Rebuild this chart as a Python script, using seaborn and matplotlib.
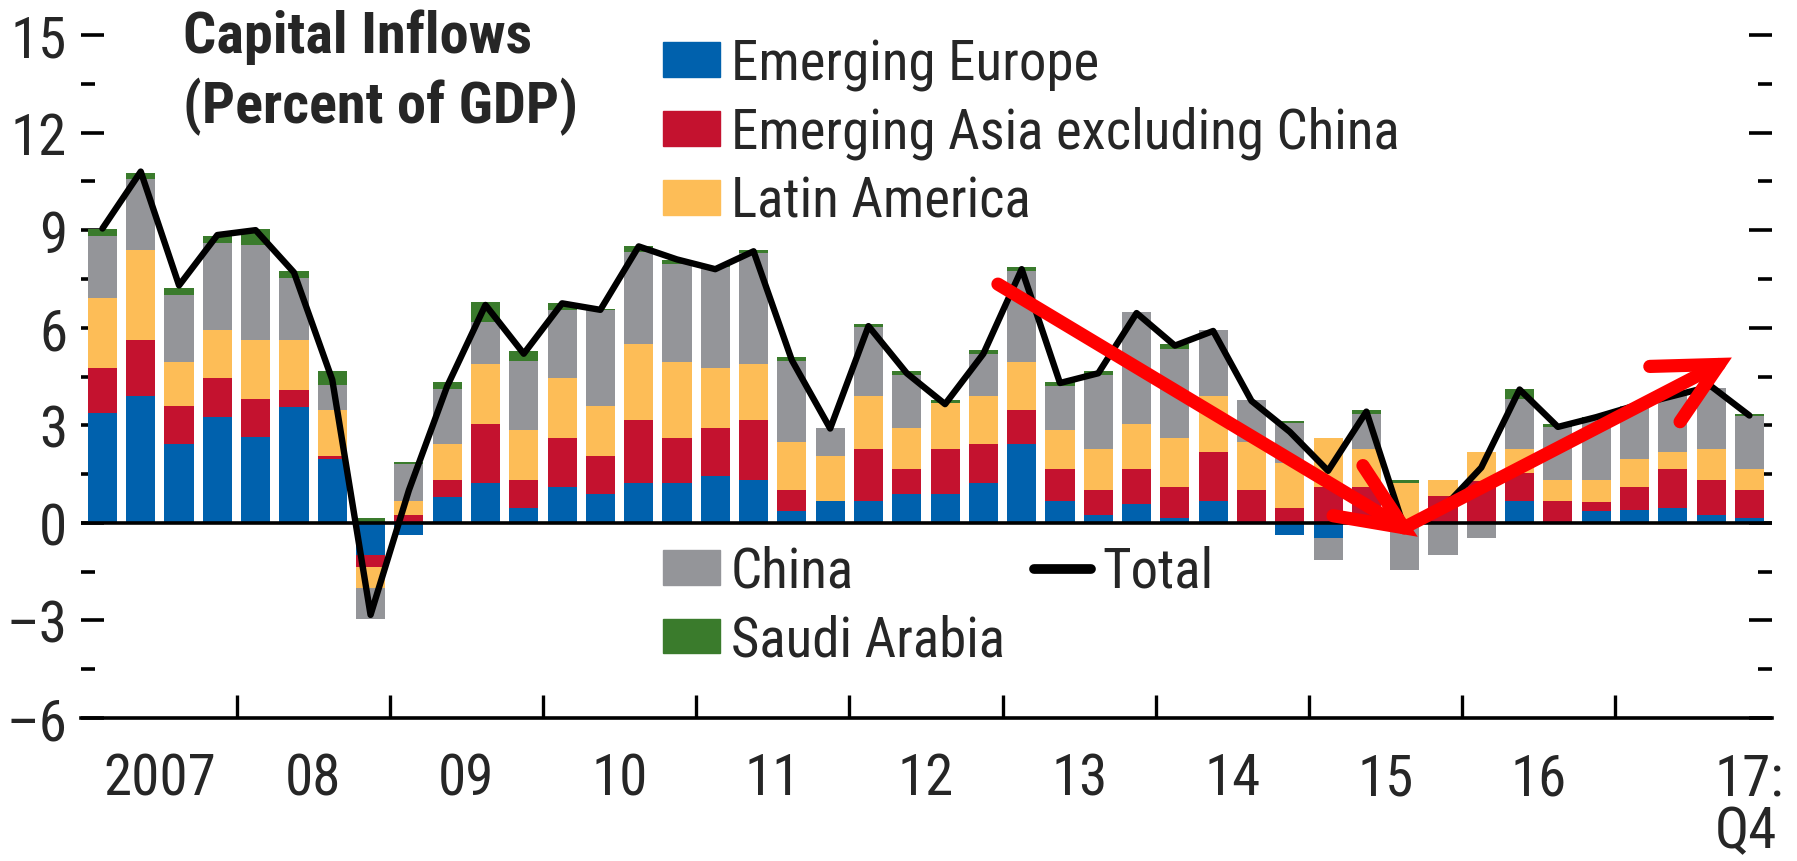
import matplotlib
matplotlib.use('Agg')  # no display

import matplotlib.pyplot as plt
from matplotlib.patches import Patch
from matplotlib.lines import Line2D
from matplotlib.ticker import MultipleLocator
import numpy as np
import seaborn as sns

# quarterly data, 2007:Q1 .. 2017:Q4 (percent of GDP)
quarters = [f"{y}Q{q}" for y in range(2007, 2018) for q in range(1, 5)]

emerging_europe = [3.37, 3.89, 2.41, 3.27, 2.63, 3.57, 1.97, -1.00, -0.36, 0.80, 1.23, 0.47,
                   1.11, 0.90, 1.22, 1.22, 1.45, 1.33, 0.36, 0.68, 0.68, 0.89, 0.89, 1.22,
                   2.41, 0.68, 0.25, 0.59, 0.15, 0.68, 0.00, -0.36, -0.48, 0.00, 0.00, 0.00,
                   0.00, 0.67, 0.00, 0.36, 0.40, 0.46, 0.25, 0.15]
emerging_asia = [1.38, 1.73, 1.17, 1.17, 1.17, 0.53, 0.09, -0.35, 0.25, 0.53, 1.82, 0.86,
                 1.51, 1.17, 1.93, 1.40, 1.48, 1.82, 0.66, 0.00, 1.60, 0.78, 1.39, 1.19,
                 1.07, 0.99, 0.77, 1.08, 0.96, 1.51, 1.02, 0.46, 1.11, 1.11, 0.00, 0.82,
                 1.30, 0.87, 0.68, 0.28, 0.71, 1.21, 1.08, 0.87]
latin_america = [2.16, 2.76, 1.38, 1.49, 1.82, 1.52, 1.42, -0.65, 0.43, 1.08, 1.83, 1.51,
                 1.82, 1.51, 2.34, 2.34, 1.82, 1.72, 1.48, 1.39, 1.61, 1.26, 1.39, 1.48,
                 1.48, 1.17, 1.26, 1.38, 1.51, 1.70, 1.48, 1.39, 1.51, 1.17, 1.22, 0.50,
                 0.89, 0.74, 0.65, 0.69, 0.86, 0.52, 0.95, 0.65]
china = [1.91, 2.18, 2.05, 2.68, 2.91, 1.90, 0.75, -0.95, 1.12, 1.70, 1.29, 2.15,
         2.09, 2.96, 2.84, 3.01, 3.13, 3.43, 2.49, 0.86, 2.14, 1.61, 0.00, 1.29,
         2.78, 1.38, 2.26, 3.43, 2.72, 2.04, 1.29, 1.21, -0.65, 1.08, -1.45, -1.00,
         -0.48, 1.52, 1.63, 1.82, 1.63, 1.75, 1.88, 1.61]
saudi_arabia = [0.20, 0.20, 0.21, 0.21, 0.49, 0.22, 0.43, 0.15, 0.08, 0.21, 0.61, 0.30,
                0.22, 0.05, 0.17, 0.12, 0.03, 0.08, 0.10, 0.00, 0.08, 0.12, 0.10, 0.12,
                0.12, 0.10, 0.12, 0.00, 0.17, 0.00, 0.00, 0.08, 0.00, 0.12, 0.11, 0.00,
                0.00, 0.31, 0.09, 0.12, 0.00, 0.00, 0.00, 0.08]
total = [9.05, 10.8, 7.3, 8.85, 9.0, 7.7, 4.4, -2.83, 1.0, 4.2, 6.7, 5.2,
         6.75, 6.55, 8.5, 8.1, 7.8, 8.35, 5.0, 2.9, 6.05, 4.6, 3.65, 5.2,
         7.8, 4.3, 4.6, 6.45, 5.45, 5.9, 3.75, 2.8, 1.6, 3.42, -0.2, 0.45,
         1.7, 4.1, 2.95, 3.25, 3.6, 3.9, 4.2, 3.3]

year_labels = ["2007", "08", "09", "10", "11", "12", "13", "14", "15", "16", "17:\nQ4"]
y_labels = ["\u20136", "\u20133", "0", "3", "6", "9", "12", "15"]

BLUE, RED, YELLOW = "#0061AD", "#C4122F", "#FDBD57"
GRAY, GREEN = "#949599", "#3A7B2C"

sns.set_theme(style="white")
plt.rcParams["font.family"] = ["Roboto Condensed", "Liberation Sans", "DejaVu Sans"]

W, H = 1797, 862
fig = plt.figure(figsize=(W / 100, H / 100), dpi=100)
ax = fig.add_axes([81 / W, 1 - 719 / H, (1772 - 81) / W, (719 - 36) / H])

x = np.arange(len(quarters))
series = [("Emerging Europe", emerging_europe, BLUE),
          ("Emerging Asia excluding China", emerging_asia, RED),
          ("Latin America", latin_america, YELLOW),
          ("China", china, GRAY),
          ("Saudi Arabia", saudi_arabia, GREEN)]

# stacked bars, positives up and negatives down from zero
pos = np.zeros(len(x))
neg = np.zeros(len(x))
for name, vals, col in series:
    v = np.asarray(vals, dtype=float)
    ax.bar(x, v, bottom=np.where(v >= 0, pos, neg), width=0.76, color=col,
           linewidth=0, zorder=2)
    pos += np.clip(v, 0, None)
    neg += np.clip(v, None, 0)

ax.axhline(0, color="black", lw=2.6, zorder=3)
sns.lineplot(x=x, y=total, color="black", lw=4.6, ax=ax, zorder=4)

# red annotation arrows
arrow_kw = dict(color="#FF0000", lw=9.5, solid_capstyle="round", solid_joinstyle="miter", zorder=6)
ax.plot([23.38, 33.98], [7.34, -0.15], **arrow_kw)
ax.plot([32.91, 33.98, 32.13], [1.76, -0.15, 0.22], **arrow_kw)
ax.plot([33.98, 42.21], [-0.15, 4.87], **arrow_kw)
ax.plot([40.4, 42.21, 41.19], [4.81, 4.87, 3.11], **arrow_kw)

ax.set_xlim(-0.56, 43.59)
ax.set_ylim(-6, 15)

# y axis: ticks inside on both sides
ax.set_yticks(np.arange(-6, 16, 3), labels=y_labels)
ax.yaxis.set_minor_locator(MultipleLocator(1.5))
ax.tick_params(axis="y", which="both", direction="in", left=True, right=True,
               width=2.6, color="black", labelsize=41, pad=10)
ax.tick_params(axis="y", which="major", length=16.5)
ax.tick_params(axis="y", which="minor", length=10)

# x axis: year boundaries as ticks, year names in between
ax.set_xticks(np.arange(3.5, 40, 4))
ax.set_xticks(list(np.arange(1.5, 40, 4)) + [43], labels=year_labels, minor=True)
ax.tick_params(axis="x", which="major", direction="in", length=16.5, width=2.4,
               color="black", labelbottom=False, bottom=True)
ax.tick_params(axis="x", which="minor", length=0, labelsize=41, pad=24)
last = ax.get_xticklabels(minor=True)[-1]
last.set_linespacing(0.95)
last.set_multialignment("left")

for side in ["left", "right", "top"]:
    ax.spines[side].set_visible(False)
ax.spines["bottom"].set_linewidth(2.6)
ax.spines["bottom"].set_color("black")
ax.grid(False)
ax.set_xlabel("")
ax.set_ylabel("")

# legends
leg_kw = dict(loc="upper left", bbox_transform=fig.transFigure, frameon=False,
              fontsize=39.5, borderpad=0, borderaxespad=0, handlelength=1.04,
              handleheight=0.6, handletextpad=0.2, labelspacing=0.28)
top_handles = [Patch(color=c, label=n) for n, v, c in series[:3]]
fig.legend(handles=top_handles, bbox_to_anchor=(663 / W, 1 - 38 / H), **leg_kw)
bottom_handles = [Patch(color=GRAY, label="China"), Patch(color=GREEN, label="Saudi Arabia"),
                  Line2D([], [], color="black", lw=7, label="Total")]
fig.legend(handles=bottom_handles, bbox_to_anchor=(663 / W, 1 - 546 / H), ncol=2,
           columnspacing=0.53, **leg_kw)

fig.text(183 / W, 1 - 53 / H, "Capital Inflows", fontsize=42, fontweight="bold", va="baseline")
fig.text(183 / W, 1 - 123 / H, "(Percent of GDP)", fontsize=42, fontweight="bold", va="baseline")

fig.savefig("out.png", dpi=100)
